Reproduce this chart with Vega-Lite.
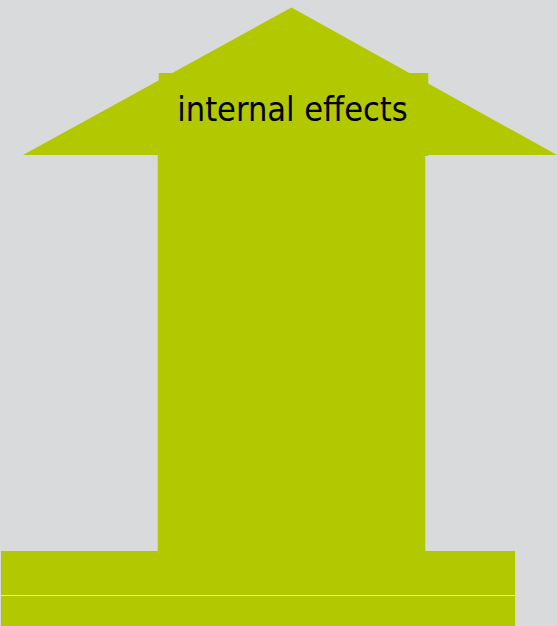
{
  "$schema": "https://vega.github.io/schema/vega-lite/v6.json",
  "width": 557,
  "height": 626,
  "padding": 0,
  "autosize": {"type": "fit", "contains": "padding"},
  "background": "#d9dadc",
  "config": {"view": {"stroke": null}},
  "layer": [
    {
      "data": {"values": [
        {"part": "top block", "x": 158, "x2": 428, "y": 73, "y2": 156},
        {"part": "shaft", "x": 157, "x2": 425, "y": 154, "y2": 552},
        {"part": "base", "x": 0, "x2": 515, "y": 551, "y2": 626}
      ]},
      "mark": {"type": "rect", "color": "#b2c800"},
      "encoding": {
        "x": {"field": "x", "type": "quantitative", "scale": {"domain": [0, 557]}, "axis": null},
        "x2": {"field": "x2"},
        "y": {"field": "y", "type": "quantitative", "scale": {"domain": [0, 626], "reverse": true}, "axis": null},
        "y2": {"field": "y2"}
      }
    },
    {
      "data": {"values": [
        {"x": 22, "y": 155, "y2": 155},
        {"x": 291, "y": 7.5, "y2": 155},
        {"x": 557, "y": 155, "y2": 155}
      ]},
      "mark": {"type": "area", "color": "#b2c800", "interpolate": "linear"},
      "encoding": {
        "x": {"field": "x", "type": "quantitative", "scale": {"domain": [0, 557]}, "axis": null},
        "y": {"field": "y", "type": "quantitative", "scale": {"domain": [0, 626], "reverse": true}, "axis": null},
        "y2": {"field": "y2"}
      }
    },
    {
      "data": {"values": [{"x": 0, "x2": 515, "y": 595.5}]},
      "mark": {"type": "rule", "color": "#e3e8b8", "strokeWidth": 1},
      "encoding": {
        "x": {"field": "x", "type": "quantitative", "scale": {"domain": [0, 557]}, "axis": null},
        "x2": {"field": "x2"},
        "y": {"field": "y", "type": "quantitative", "scale": {"domain": [0, 626], "reverse": true}, "axis": null}
      }
    },
    {
      "data": {"values": [{"label": "internal effects", "x": 292, "y": 111}]},
      "mark": {"type": "text", "font": "Liberation Sans Narrow, DejaVu Sans Condensed, Liberation Sans", "fontSize": 34, "color": "#000000", "align": "center", "baseline": "middle"},
      "encoding": {
        "x": {"field": "x", "type": "quantitative", "scale": {"domain": [0, 557]}, "axis": null},
        "y": {"field": "y", "type": "quantitative", "scale": {"domain": [0, 626], "reverse": true}, "axis": null},
        "text": {"field": "label"}
      }
    }
  ]
}
